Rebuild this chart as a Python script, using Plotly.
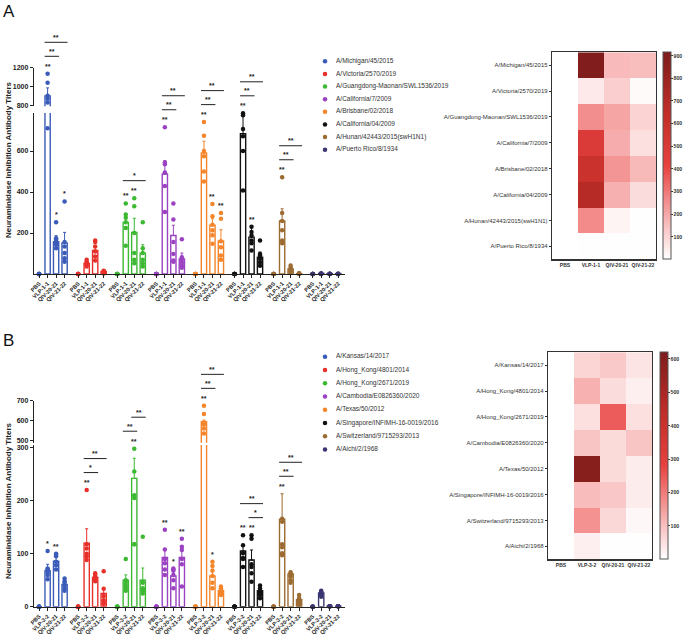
import plotly.graph_objects as go

W, H = 685, 637
FONT = "Liberation Sans, Arial, sans-serif"

# ---------------- data ----------------
vaccines_A = ["PBS", "VLP-1-1", "QIV-20-21", "QIV-21-22"]
vaccines_B = ["PBS", "VLP-3-2", "QIV-20-21", "QIV-21-22"]

strains_A = ["A/Michigan/45/2015", "A/Victoria/2570/2019", "A/Guangdong-Maonan/SWL1536/2019",
             "A/California/7/2009", "A/Brisbane/02/2018", "A/California/04/2009",
             "A/Hunan/42443/2015(swH1N1)", "A/Puerto Rico/8/1934"]
strains_B = ["A/Kansas/14/2017", "A/Hong_Kong/4801/2014", "A/Hong_Kong/2671/2019",
             "A/Cambodia/E0826360/2020", "A/Texas/50/2012", "A/Singapore/INFIMH-16-0019/2016",
             "A/Switzerland/9715293/2013", "A/Aichi/2/1968"]

colors = ["#3b5bb8", "#e8302a", "#3cb832", "#9b42c2", "#f5852b", "#111111", "#9c6b32", "#3b3672"]

# mean titers (PBS, VLP, QIV-20-21, QIV-21-22)
means_A = [[0, 900, 158, 152], [0, 52, 115, 12], [0, 252, 203, 102], [0, 488, 188, 74],
           [0, 590, 238, 161], [0, 685, 180, 82], [0, 259, 25, 2], [0, 3, 2, 2]]
sem_A = [[0, 85, 29, 51], [0, 8, 16, 4], [0, 27, 69, 41], [0, 65, 50, 28],
         [0, 58, 32, 55], [0, 94, 50, 25], [0, 59, 6, 0], [0, 0, 0, 0]]
points_A = [
    [[0] * 6, [1135, 1040, 900, 870, 830, 711], [252, 174, 167, 154, 143, 126], [354, 156, 134, 102, 77, 60]],
    [[0] * 6, [69, 61, 55, 50, 44, 36], [164, 156, 134, 110, 85, 66], [16, 14, 10, 7, 5, 3]],
    [[0] * 6, [344, 290, 274, 252, 225, 138], [370, 331, 200, 102, 69, 52], [252, 126, 102, 69, 52, 36]],
    [[0] * 6, [716, 544, 536, 495, 429, 303], [344, 266, 156, 98, 66, 60], [169, 82, 70, 55, 41, 30]],
    [[0] * 6, [741, 675, 600, 574, 500, 451], [341, 282, 240, 213, 189, 148], [298, 270, 160, 131, 90, 69]],
    [[0] * 6, [784, 774, 708, 672, 600, 407], [230, 205, 188, 164, 150, 115], [164, 98, 90, 75, 57, 40]],
    [[0] * 6, [472, 298, 259, 213, 164, 150], [41, 30, 25, 20, 16, 10], [3, 2, 2, 1, 1, 0]],
    [[0] * 6, [2, 2, 1, 1, 0, 0], [1, 1, 0, 0, 0, 0], [1, 1, 0, 0, 0, 0]],
]

means_B = [[0, 68, 86, 42], [0, 120, 55, 25], [0, 50, 242, 50], [0, 93, 58, 93],
           [0, 594, 58, 30], [0, 105, 88, 30], [0, 165, 62, 13], [0, 26, 1, 1]]
sem_B = [[0, 12, 11, 8], [0, 27, 7, 8], [0, 10, 38, 23], [0, 14, 14, 17],
         [0, 8, 13, 6], [0, 11, 19, 6], [0, 48, 5, 5], [0, 4, 0, 0]]
points_B = [
    [[0] * 6, [105, 72, 70, 65, 60, 52], [100, 98, 95, 85, 78, 70], [53, 48, 45, 40, 35, 30]],
    [[0] * 6, [220, 118, 110, 100, 95, 88], [63, 60, 57, 55, 52, 48], [67, 34, 20, 12, 8, 5]],
    [[0] * 6, [90, 50, 45, 40, 35, 30], [298, 255, 210, 205, 118, 118], [132, 45, 35, 32, 30, 25]],
    [[0] * 6, [145, 108, 90, 82, 70, 60], [72, 70, 68, 60, 50, 35], [128, 113, 107, 90, 80, 38]],
    [[0] * 6, [674, 633, 590, 580, 560, 535], [85, 77, 68, 58, 45, 35], [38, 35, 32, 28, 25, 22]],
    [[0] * 6, [135, 116, 101, 92, 90, 75], [135, 128, 80, 75, 63, 47], [40, 35, 30, 26, 22, 16]],
    [[0] * 6, [166, 160, 118, 112, 101, 97], [65, 62, 60, 57, 50, 45], [22, 16, 12, 9, 6, 4]],
    [[0] * 6, [30, 28, 26, 24, 22, 19], [1] * 6, [1] * 6],
]

# significance: (strain index, bar index, label) and brackets (strain, bar a, bar b, label, tier)
stars_A = [(0, 1, "**"), (0, 2, "*"), (0, 3, "*"), (2, 1, "**"), (2, 2, "**"), (3, 1, "**"),
           (4, 1, "**"), (4, 2, "**"), (4, 3, "**"), (5, 1, "**"), (5, 2, "**"), (6, 1, "**")]
brackets_A = [(0, 1, 2, "**", 1), (0, 1, 3, "**", 2), (2, 1, 3, "*", 1), (3, 1, 2, "**", 1), (3, 1, 3, "**", 2),
              (4, 1, 2, "**", 1), (4, 1, 3, "**", 2), (5, 1, 2, "**", 1), (5, 1, 3, "**", 2),
              (6, 1, 2, "**", 1), (6, 1, 3, "**", 2)]
stars_B = [(0, 1, "*"), (0, 2, "**"), (1, 1, "**"), (2, 2, "**"), (3, 1, "**"), (3, 2, "*"), (3, 3, "**"),
           (4, 1, "**"), (4, 2, "*"), (5, 1, "**"), (5, 2, "**"), (6, 1, "**")]
brackets_B = [(1, 1, 2, "*", 1), (1, 1, 3, "**", 2), (2, 1, 2, "**", 1), (2, 2, 3, "**", 2),
              (4, 1, 2, "**", 1), (4, 1, 3, "**", 2), (5, 2, 3, "*", 1), (5, 1, 3, "**", 2),
              (6, 1, 2, "**", 1), (6, 1, 3, "**", 2)]

ticks_A_low, ticks_A_up = [200, 400, 600], [800, 1000, 1200]
ticks_B_low, ticks_B_up = [0, 100, 200, 300], [500, 600, 700]
cbar_ticks_A = [100, 200, 300, 400, 500, 600, 700, 800, 900]
cbar_ticks_B = [100, 200, 300, 400, 500, 600]

# ---------------- layout helpers ----------------
def fx(p):
    return p / W


def fy(p):
    return 1 - p / H


X_PX = (34, 345)
X_RNG = (-0.6, 36.0)
STEP = 4.6
BAR_W = 0.62


def xpos(g, b):
    return g * STEP + b


seg = {
    "A_low": dict(px=(274.0, 113.1), rng=(0, 785)),
    "A_up": dict(px=(106.2, 67.7), rng=(790, 1200)),
    "B_low": dict(px=(606.7, 445.0), rng=(0, 305)),
    "B_up": dict(px=(442.7, 400.7), rng=(488, 700)),
}


def v2px(low, up, v):
    s = low if v <= low["rng"][1] else up
    (p0, p1), (r0, r1) = s["px"], s["rng"]
    return p0 + (v - r0) * (p1 - p0) / (r1 - r0)


fig = go.Figure()
lay = {}
annotations = []
shapes = []

AX = dict(showgrid=False, zeroline=False, showline=True, linecolor="#222", linewidth=1.2, automargin=False,
          ticks="outside", ticklen=3, tickwidth=1, tickcolor="#222")


def bar_panel(xa, ya_low, ya_up, low, up, strains, vaccines, means, sems, points, stars, brackets,
              tlow, tup):
    tv, tt = [], []
    for g in range(len(strains)):
        for b in range(4):
            tv.append(xpos(g, b))
            tt.append(vaccines[b])
    lay["xaxis" + xa[1:]] = dict(AX, domain=[fx(X_PX[0]), fx(X_PX[1])], range=list(X_RNG), anchor=ya_low,
                                 tickmode="array", tickvals=tv, ticktext=tt, tickangle=-45,
                                 tickfont=dict(family=FONT, size=5.6, color="#222", weight="bold"))
    for ya, s, tks in ((ya_low, low, tlow), (ya_up, up, tup)):
        lay["yaxis" + ya[1:]] = dict(AX, domain=[fy(s["px"][0]), fy(s["px"][1])], range=list(s["rng"]),
                                     anchor=xa, tickmode="array", tickvals=tks,
                                     tickfont=dict(family=FONT, size=7, color="#222", weight="bold"))
    tops = []
    for g in range(len(strains)):
        c = colors[g]
        xs = [xpos(g, b) for b in range(4)]
        for ya, s in ((ya_low, low), (ya_up, up)):
            fig.add_trace(go.Bar(x=xs, y=means[g], width=BAR_W, xaxis=xa, yaxis=ya, showlegend=False,
                                 hoverinfo="skip",
                                 marker=dict(color="white", line=dict(color=c, width=1.4)),
                                 error_y=dict(type="data", symmetric=False, array=sems[g],
                                              arrayminus=[0] * 4, color=c, thickness=1, width=1.5)))
            px_, py_ = [], []
            for b in range(4):
                for v in points[g][b]:
                    if s["rng"][0] <= v <= s["rng"][1]:
                        px_.append(xs[b])
                        py_.append(v)
            fig.add_trace(go.Scatter(x=px_, y=py_, mode="markers", xaxis=xa, yaxis=ya, showlegend=False,
                                     hoverinfo="skip", cliponaxis=False,
                                     marker=dict(size=4.5, color=c, line=dict(width=0))))
        tops.append([v2px(low, up, max(max(points[g][b]), means[g][b] + sems[g][b])) for b in range(4)])
    star_font = dict(family=FONT, size=7, color="#222", weight="bold")
    for g, b, lab in stars:
        annotations.append(dict(x=xpos(g, b), xref=xa, y=fy(tops[g][b] - 2), yref="paper", text=lab,
                                showarrow=False, xanchor="center", yanchor="bottom", font=star_font))
    for g, a, b, lab, tier in brackets:
        base = min(tops[g][1:])
        ypx = base - 17.5 - 14 * (tier - 1)
        shapes.append(dict(type="line", xref=xa, yref="paper", x0=xpos(g, a) - 0.35, x1=xpos(g, b) + 0.35,
                           y0=fy(ypx), y1=fy(ypx), line=dict(color="#222", width=1)))
        annotations.append(dict(x=(xpos(g, a) + xpos(g, b)) / 2, xref=xa, y=fy(ypx + 0.5), yref="paper",
                                text=lab, showarrow=False, xanchor="center", yanchor="bottom", font=star_font))


bar_panel("x", "y", "y2", seg["A_low"], seg["A_up"], strains_A, vaccines_A, means_A, sem_A, points_A,
          stars_A, brackets_A, ticks_A_low, ticks_A_up)
bar_panel("x2", "y3", "y4", seg["B_low"], seg["B_up"], strains_B, vaccines_B, means_B, sem_B, points_B,
          stars_B, brackets_B, ticks_B_low, ticks_B_up)

# ---------------- heatmaps ----------------
CS = [[0, "#ffffff"], [0.15, "#f9c4c4"], [0.3, "#f28484"], [0.45, "#e6423f"], [0.7, "#c22e29"],
      [1, "#7d1c1b"]]


def heat(xa, ya, xpx, ypx, vaccines, strains, z, zmax, cticks, cbx):
    fig.add_trace(go.Heatmap(z=z, x=vaccines, y=strains, zmin=0, zmax=zmax, colorscale=CS, xaxis=xa, yaxis=ya,
                             hoverinfo="skip",
                             colorbar=dict(x=fx(cbx), xanchor="left", y=fy((ypx[0] + ypx[1]) / 2),
                                           yanchor="middle", len=(ypx[1] - ypx[0]) / H, lenmode="fraction",
                                           thickness=8, thicknessmode="pixels", xpad=0, ypad=0,
                                           tickmode="array", tickvals=cticks, ticks="outside", ticklen=1.5,
                                           tickwidth=1, tickcolor="#333", outlinewidth=1, outlinecolor="#555",
                                           tickfont=dict(family=FONT, size=5.2, color="#333", weight="bold"))))
    lay["xaxis" + xa[1:]] = dict(domain=[fx(xpx[0]), fx(xpx[1])], anchor=ya, showgrid=False, zeroline=False,
                                 showline=True, mirror=True, linecolor="#333", linewidth=1.2, ticks="",
                                 tickangle=0, automargin=False,
                                 tickfont=dict(family=FONT, size=5, color="#333", weight="bold"))
    lay["yaxis" + ya[1:]] = dict(domain=[fy(ypx[1]), fy(ypx[0])], anchor=xa, autorange="reversed",
                                 showgrid=False, zeroline=False, showline=True, mirror=True, linecolor="#333",
                                 linewidth=1.2, ticks="outside", ticklen=2, tickcolor="#333", automargin=False,
                                 tickfont=dict(family=FONT, size=6, color="#333"))


heat("x3", "y5", (552, 656), (52.3, 259.3), vaccines_A, strains_A, means_A, 915, cbar_ticks_A, 663)
heat("x4", "y6", (548, 652), (352.3, 559.3), vaccines_B, strains_B, means_B, 620, cbar_ticks_B, 660)

# ---------------- legends (drawn as markers + text on hidden axes) ----------------
def legend(xa, ya, ypx, strains):
    n = len(strains)
    fig.add_trace(go.Scatter(x=[(325 - 318) / 160] * n, y=list(range(n)), mode="markers", xaxis=xa, yaxis=ya,
                             showlegend=False, hoverinfo="skip", cliponaxis=False,
                             marker=dict(size=4.5, color=colors[:n])))
    fig.add_trace(go.Scatter(x=[(336 - 318) / 160] * n, y=list(range(n)), mode="text", text=strains,
                             textposition="middle right", xaxis=xa, yaxis=ya, showlegend=False,
                             hoverinfo="skip", cliponaxis=False,
                             textfont=dict(family=FONT, size=6.5, color="#333")))
    lay["xaxis" + xa[1:]] = dict(domain=[fx(318), fx(478)], range=[0, 1], visible=False, anchor=ya,
                                 automargin=False)
    lay["yaxis" + ya[1:]] = dict(domain=[fy(ypx[1]), fy(ypx[0])], range=[n - 0.5, -0.5], visible=False,
                                 anchor=xa, automargin=False)


legend("x5", "y7", (55, 156), strains_A)
legend("x6", "y8", (350.1, 456), strains_B)

# ---------------- titles ----------------
ytitle = "Neuraminidase Inhibition Antibody Titers"
for ycen in (160, 501):
    annotations.append(dict(x=fx(8), y=fy(ycen), xref="paper", yref="paper", text=ytitle, textangle=-90,
                            showarrow=False, xanchor="center", yanchor="middle",
                            font=dict(family=FONT, size=8, color="#222", weight="bold")))
for lab, ytop in (("A", 0), ("B", 329)):
    annotations.append(dict(x=fx(1), y=fy(ytop), xref="paper", yref="paper", text=lab, showarrow=False,
                            xanchor="left", yanchor="top", font=dict(family=FONT, size=17, color="#111")))

fig.update_layout(width=W, height=H, margin=dict(l=0, r=0, t=0, b=0, pad=0, autoexpand=False),
                  plot_bgcolor="rgba(0,0,0,0)", paper_bgcolor="white", barmode="overlay", showlegend=False,
                  annotations=annotations, shapes=shapes, **lay)

fig.write_html("out.html", config={"displayModeBar": False, "staticPlot": True},
               post_script="document.body.style.margin='0';document.body.style.overflow='hidden';")
